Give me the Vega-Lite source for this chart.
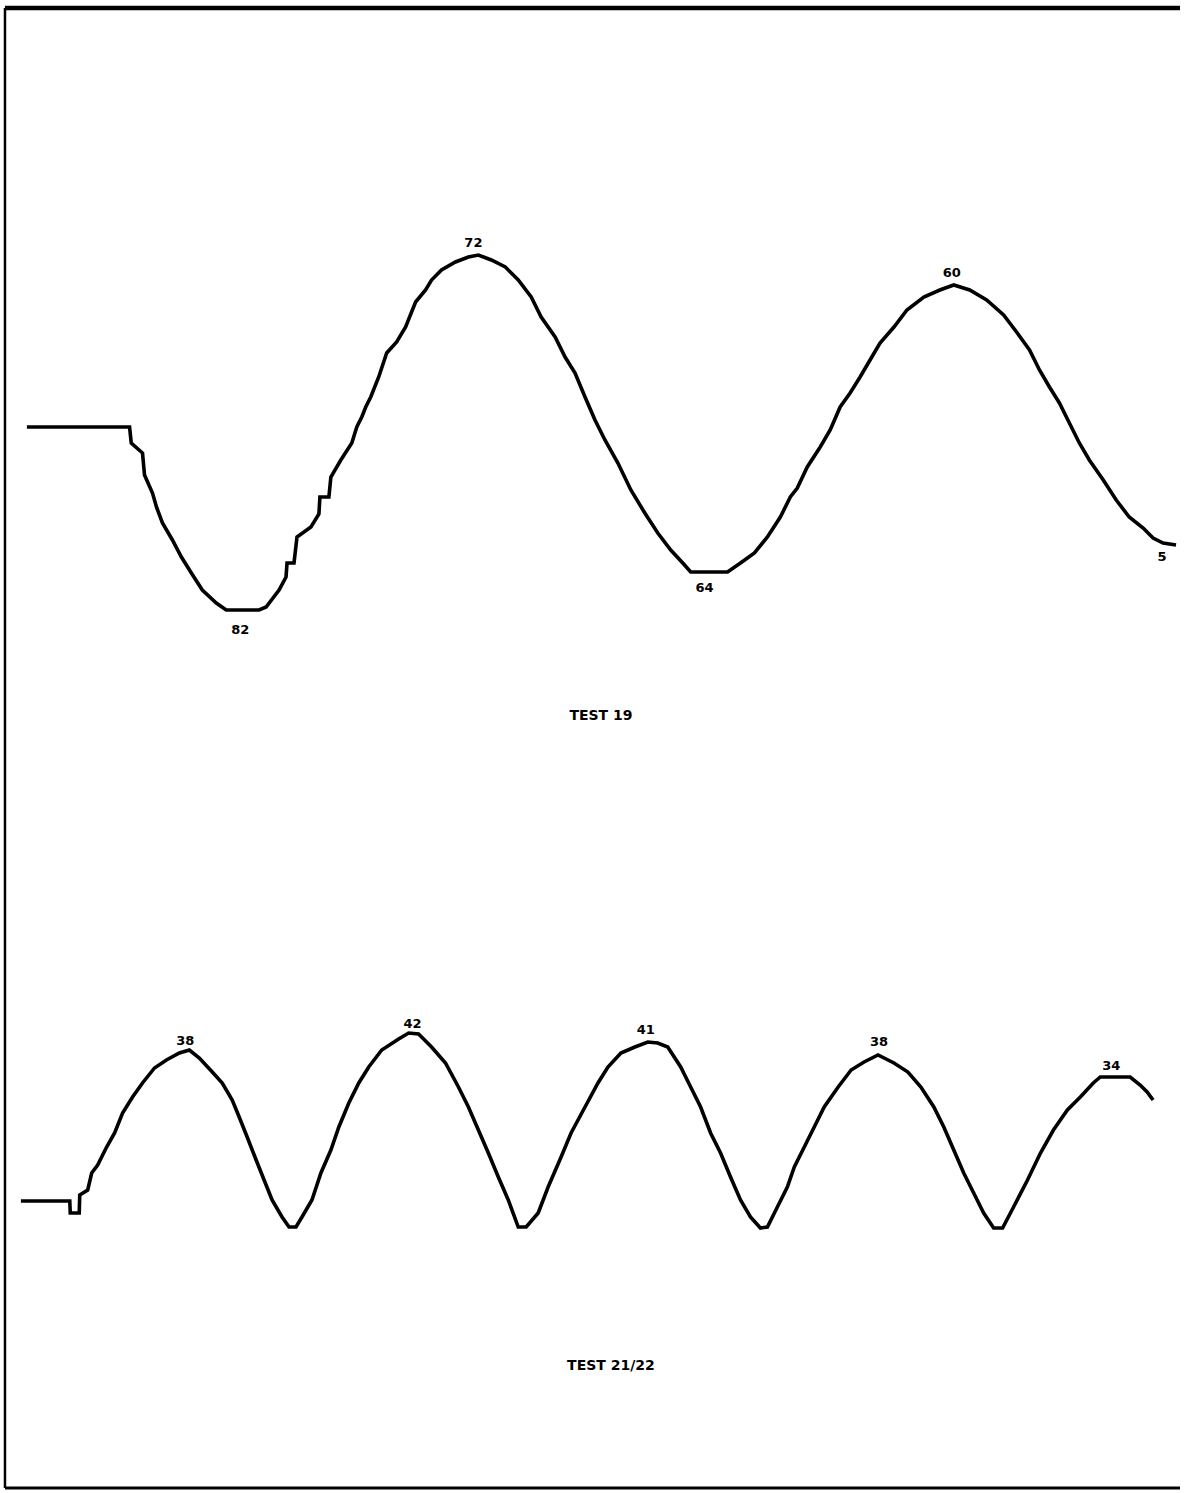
{
  "$schema": "https://vega.github.io/schema/vega-lite/v6.json",
  "autosize": {"type": "fit", "contains": "padding"},
  "width": 1184,
  "height": 1493,
  "padding": 0,
  "background": "white",
  "config": {"view": {"stroke": null}},
  "datasets": {
    "curves": [
      {"s":"TEST 19","x":27,"y":427},{"s":"TEST 19","x":130,"y":427},{"s":"TEST 19","x":131.7,"y":443},{"s":"TEST 19","x":143,"y":453},{"s":"TEST 19","x":145,"y":475},{"s":"TEST 19","x":153,"y":493},{"s":"TEST 19","x":157,"y":507},{"s":"TEST 19","x":163,"y":523},{"s":"TEST 19","x":173,"y":540},{"s":"TEST 19","x":182,"y":557},{"s":"TEST 19","x":192,"y":573},{"s":"TEST 19","x":203,"y":590},{"s":"TEST 19","x":217,"y":603},{"s":"TEST 19","x":227,"y":610},{"s":"TEST 19","x":260,"y":610},{"s":"TEST 19","x":267,"y":607},{"s":"TEST 19","x":280,"y":590},{"s":"TEST 19","x":287,"y":577},{"s":"TEST 19","x":288,"y":563},{"s":"TEST 19","x":295,"y":563},{"s":"TEST 19","x":298,"y":537},{"s":"TEST 19","x":312,"y":527},{"s":"TEST 19","x":320,"y":514},{"s":"TEST 19","x":321,"y":497},{"s":"TEST 19","x":330,"y":497},{"s":"TEST 19","x":332,"y":477},{"s":"TEST 19","x":342,"y":460},{"s":"TEST 19","x":353,"y":443},{"s":"TEST 19","x":358,"y":427},{"s":"TEST 19","x":363,"y":417},{"s":"TEST 19","x":367,"y":407},{"s":"TEST 19","x":372,"y":397},{"s":"TEST 19","x":380,"y":377},{"s":"TEST 19","x":388,"y":353},{"s":"TEST 19","x":398,"y":342},{"s":"TEST 19","x":407,"y":327},{"s":"TEST 19","x":417,"y":302},{"s":"TEST 19","x":427,"y":290},{"s":"TEST 19","x":433,"y":280},{"s":"TEST 19","x":443,"y":270},{"s":"TEST 19","x":457,"y":262},{"s":"TEST 19","x":470,"y":257},{"s":"TEST 19","x":480,"y":255},{"s":"TEST 19","x":493,"y":260},{"s":"TEST 19","x":507,"y":267},{"s":"TEST 19","x":520,"y":280},{"s":"TEST 19","x":533,"y":297},{"s":"TEST 19","x":543,"y":317},{"s":"TEST 19","x":557,"y":337},{"s":"TEST 19","x":567,"y":357},{"s":"TEST 19","x":577,"y":373},{"s":"TEST 19","x":587,"y":397},{"s":"TEST 19","x":597,"y":420},{"s":"TEST 19","x":607,"y":440},{"s":"TEST 19","x":620,"y":463},{"s":"TEST 19","x":633,"y":490},{"s":"TEST 19","x":647,"y":513},{"s":"TEST 19","x":660,"y":533},{"s":"TEST 19","x":673,"y":550},{"s":"TEST 19","x":686,"y":564},{"s":"TEST 19","x":693,"y":572},{"s":"TEST 19","x":730,"y":572},{"s":"TEST 19","x":743,"y":563},{"s":"TEST 19","x":757,"y":553},{"s":"TEST 19","x":770,"y":537},{"s":"TEST 19","x":783,"y":517},{"s":"TEST 19","x":793,"y":497},{"s":"TEST 19","x":800,"y":488},{"s":"TEST 19","x":810,"y":467},{"s":"TEST 19","x":823,"y":447},{"s":"TEST 19","x":833,"y":430},{"s":"TEST 19","x":843,"y":407},{"s":"TEST 19","x":853,"y":393},{"s":"TEST 19","x":863,"y":377},{"s":"TEST 19","x":873,"y":360},{"s":"TEST 19","x":883,"y":343},{"s":"TEST 19","x":897,"y":327},{"s":"TEST 19","x":910,"y":310},{"s":"TEST 19","x":927,"y":297},{"s":"TEST 19","x":943,"y":290},{"s":"TEST 19","x":957,"y":285},{"s":"TEST 19","x":973,"y":290},{"s":"TEST 19","x":990,"y":300},{"s":"TEST 19","x":1007,"y":315},{"s":"TEST 19","x":1020,"y":332},{"s":"TEST 19","x":1033,"y":350},{"s":"TEST 19","x":1043,"y":370},{"s":"TEST 19","x":1053,"y":387},{"s":"TEST 19","x":1063,"y":403},{"s":"TEST 19","x":1073,"y":423},{"s":"TEST 19","x":1083,"y":443},{"s":"TEST 19","x":1093,"y":460},{"s":"TEST 19","x":1107,"y":480},{"s":"TEST 19","x":1120,"y":500},{"s":"TEST 19","x":1133,"y":517},{"s":"TEST 19","x":1147,"y":528},{"s":"TEST 19","x":1157,"y":538},{"s":"TEST 19","x":1167,"y":543},{"s":"TEST 19","x":1180,"y":545},
      {"s":"TEST 21/22","x":21,"y":1201},{"s":"TEST 21/22","x":70,"y":1201},{"s":"TEST 21/22","x":70.5,"y":1213},{"s":"TEST 21/22","x":79.5,"y":1213},{"s":"TEST 21/22","x":80,"y":1195},{"s":"TEST 21/22","x":88,"y":1190},{"s":"TEST 21/22","x":92,"y":1173},{"s":"TEST 21/22","x":98,"y":1165},{"s":"TEST 21/22","x":107,"y":1147},{"s":"TEST 21/22","x":115,"y":1133},{"s":"TEST 21/22","x":123,"y":1113},{"s":"TEST 21/22","x":133,"y":1097},{"s":"TEST 21/22","x":143,"y":1083},{"s":"TEST 21/22","x":155,"y":1068},{"s":"TEST 21/22","x":167,"y":1060},{"s":"TEST 21/22","x":180,"y":1053},{"s":"TEST 21/22","x":190,"y":1050},{"s":"TEST 21/22","x":200,"y":1058},{"s":"TEST 21/22","x":213,"y":1072},{"s":"TEST 21/22","x":223,"y":1083},{"s":"TEST 21/22","x":233,"y":1100},{"s":"TEST 21/22","x":240,"y":1117},{"s":"TEST 21/22","x":248,"y":1137},{"s":"TEST 21/22","x":257,"y":1160},{"s":"TEST 21/22","x":265,"y":1180},{"s":"TEST 21/22","x":273,"y":1200},{"s":"TEST 21/22","x":283,"y":1217},{"s":"TEST 21/22","x":290,"y":1227},{"s":"TEST 21/22","x":297,"y":1227},{"s":"TEST 21/22","x":303,"y":1217},{"s":"TEST 21/22","x":313,"y":1200},{"s":"TEST 21/22","x":322,"y":1173},{"s":"TEST 21/22","x":332,"y":1150},{"s":"TEST 21/22","x":340,"y":1127},{"s":"TEST 21/22","x":350,"y":1103},{"s":"TEST 21/22","x":360,"y":1083},{"s":"TEST 21/22","x":370,"y":1067},{"s":"TEST 21/22","x":383,"y":1050},{"s":"TEST 21/22","x":400,"y":1039},{"s":"TEST 21/22","x":410,"y":1033},{"s":"TEST 21/22","x":420,"y":1034},{"s":"TEST 21/22","x":433,"y":1047},{"s":"TEST 21/22","x":447,"y":1063},{"s":"TEST 21/22","x":460,"y":1087},{"s":"TEST 21/22","x":470,"y":1107},{"s":"TEST 21/22","x":480,"y":1130},{"s":"TEST 21/22","x":490,"y":1153},{"s":"TEST 21/22","x":500,"y":1177},{"s":"TEST 21/22","x":510,"y":1200},{"s":"TEST 21/22","x":520,"y":1227},{"s":"TEST 21/22","x":528,"y":1227},{"s":"TEST 21/22","x":540,"y":1213},{"s":"TEST 21/22","x":550,"y":1187},{"s":"TEST 21/22","x":563,"y":1157},{"s":"TEST 21/22","x":573,"y":1133},{"s":"TEST 21/22","x":587,"y":1107},{"s":"TEST 21/22","x":600,"y":1083},{"s":"TEST 21/22","x":610,"y":1067},{"s":"TEST 21/22","x":623,"y":1053},{"s":"TEST 21/22","x":637,"y":1047},{"s":"TEST 21/22","x":650,"y":1042},{"s":"TEST 21/22","x":660,"y":1043},{"s":"TEST 21/22","x":670,"y":1047},{"s":"TEST 21/22","x":683,"y":1067},{"s":"TEST 21/22","x":693,"y":1087},{"s":"TEST 21/22","x":703,"y":1107},{"s":"TEST 21/22","x":713,"y":1133},{"s":"TEST 21/22","x":723,"y":1153},{"s":"TEST 21/22","x":733,"y":1177},{"s":"TEST 21/22","x":743,"y":1200},{"s":"TEST 21/22","x":753,"y":1217},{"s":"TEST 21/22","x":763,"y":1228},{"s":"TEST 21/22","x":770,"y":1227},{"s":"TEST 21/22","x":780,"y":1207},{"s":"TEST 21/22","x":790,"y":1187},{"s":"TEST 21/22","x":797,"y":1167},{"s":"TEST 21/22","x":807,"y":1147},{"s":"TEST 21/22","x":817,"y":1127},{"s":"TEST 21/22","x":827,"y":1107},{"s":"TEST 21/22","x":841,"y":1087},{"s":"TEST 21/22","x":854,"y":1070},{"s":"TEST 21/22","x":867,"y":1062},{"s":"TEST 21/22","x":881,"y":1055},{"s":"TEST 21/22","x":897,"y":1063},{"s":"TEST 21/22","x":911,"y":1072},{"s":"TEST 21/22","x":924,"y":1087},{"s":"TEST 21/22","x":937,"y":1107},{"s":"TEST 21/22","x":947,"y":1127},{"s":"TEST 21/22","x":957,"y":1150},{"s":"TEST 21/22","x":967,"y":1173},{"s":"TEST 21/22","x":977,"y":1193},{"s":"TEST 21/22","x":987,"y":1213},{"s":"TEST 21/22","x":997,"y":1228},{"s":"TEST 21/22","x":1006,"y":1228},{"s":"TEST 21/22","x":1017,"y":1207},{"s":"TEST 21/22","x":1031,"y":1180},{"s":"TEST 21/22","x":1044,"y":1153},{"s":"TEST 21/22","x":1057,"y":1130},{"s":"TEST 21/22","x":1071,"y":1110},{"s":"TEST 21/22","x":1084,"y":1097},{"s":"TEST 21/22","x":1097,"y":1083},{"s":"TEST 21/22","x":1104,"y":1077},{"s":"TEST 21/22","x":1134,"y":1077},{"s":"TEST 21/22","x":1144,"y":1085},{"s":"TEST 21/22","x":1151,"y":1092},{"s":"TEST 21/22","x":1157,"y":1100}
    ],
    "labels": [
      {"x":475,"y":243,"t":"72"},{"x":955,"y":273,"t":"60"},{"x":241,"y":630,"t":"82"},{"x":707,"y":588,"t":"64"},{"x":1166,"y":557,"t":"5"},
      {"x":186,"y":1041,"t":"38"},{"x":414,"y":1024,"t":"42"},{"x":648,"y":1030,"t":"41"},{"x":882,"y":1042,"t":"38"},{"x":1115,"y":1066,"t":"34"}
    ],
    "titles": [
      {"x":603,"y":716,"t":"TEST 19"},{"x":613,"y":1366,"t":"TEST 21/22"}
    ],
    "frame": [
      {"side":"top","x":5,"y":8,"x2":1184,"y2":8,"w":4.5},
      {"side":"left","x":5,"y":8,"x2":5,"y2":1488,"w":2.5},
      {"side":"bottom","x":5,"y":1488,"x2":1184,"y2":1488,"w":3}
    ]
  },
  "layer": [
    {
      "data": {"name": "frame"},
      "mark": {"type": "rule", "color": "black"},
      "encoding": {
        "x": {"field": "x", "type": "quantitative", "scale": {"domain": [0, 1184], "nice": false, "zero": false}, "axis": null},
        "y": {"field": "y", "type": "quantitative", "scale": {"domain": [0, 1493], "nice": false, "zero": false, "reverse": true}, "axis": null},
        "x2": {"field": "x2"},
        "y2": {"field": "y2"},
        "strokeWidth": {"field": "w", "type": "quantitative", "scale": null, "legend": null}
      }
    },
    {
      "data": {"name": "curves"},
      "mark": {"type": "line", "color": "black", "strokeWidth": 3.6, "strokeJoin": "miter", "strokeCap": "butt"},
      "encoding": {
        "x": {"field": "x", "type": "quantitative"},
        "y": {"field": "y", "type": "quantitative"},
        "detail": {"field": "s", "type": "nominal"}
      }
    },
    {
      "data": {"name": "labels"},
      "mark": {"type": "text", "font": "DejaVu Sans", "fontWeight": "bold", "fontSize": 13, "color": "black", "baseline": "middle", "align": "center"},
      "encoding": {
        "x": {"field": "x", "type": "quantitative"},
        "y": {"field": "y", "type": "quantitative"},
        "text": {"field": "t", "type": "nominal"}
      }
    },
    {
      "data": {"name": "titles"},
      "mark": {"type": "text", "font": "DejaVu Sans", "fontWeight": "bold", "fontSize": 14, "color": "black", "baseline": "middle", "align": "center"},
      "encoding": {
        "x": {"field": "x", "type": "quantitative"},
        "y": {"field": "y", "type": "quantitative"},
        "text": {"field": "t", "type": "nominal"}
      }
    }
  ]
}
